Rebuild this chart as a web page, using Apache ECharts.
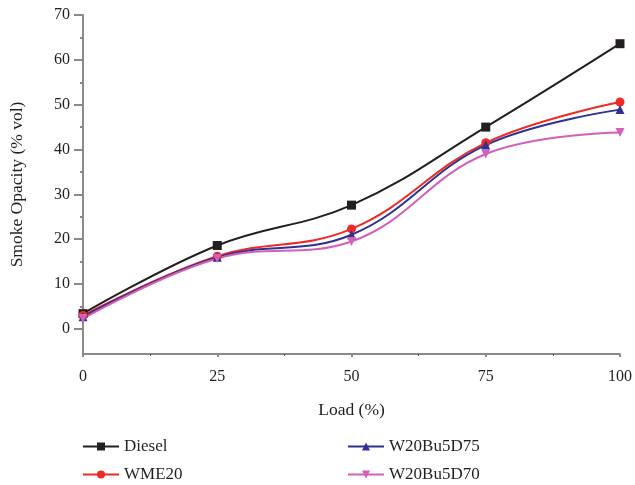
<!DOCTYPE html>
<html>
<head>
<meta charset="utf-8">
<script src="https://cdn.jsdelivr.net/npm/echarts@6/dist/echarts.min.js"></script>
<style>
  html, body { margin: 0; padding: 0; background: #fff; }
  #chart { width: 635px; height: 485px; }
</style>
</head>
<body>
<div id="chart"></div>
<script>
// load (%) on the x axis
var loads = [0, 25, 50, 75, 100];

// smoke opacity (% vol) per fuel
var diesel = [3.4, 18.6, 27.6, 45.0, 63.6];
var wme20 = [3.0, 16.2, 22.3, 41.5, 50.6];
var w20bu5d75 = [2.7, 16.0, 21.0, 41.0, 48.9];
var w20bu5d70 = [2.3, 15.7, 19.5, 39.0, 43.8];

var yLabels = [0, 10, 20, 30, 40, 50, 60, 70];
var yMinor = [5, 15, 25, 35, 45, 55, 65];

function pairs(ys) {
    return loads.map(function (x, i) { return [x, ys[i]]; });
}

var font = 'Liberation Serif';
var axisGray = '#8a8a8a';
var ink = '#231f20';

function line(name, ys, color, symbol, rotate) {
    return {
        name: name,
        type: 'line',
        data: pairs(ys),
        smooth: 0.4,
        symbol: symbol,
        symbolSize: 9,
        symbolRotate: rotate || 0,
        lineStyle: { color: color, width: 2 },
        itemStyle: { color: color },
        z: 3
    };
}

function legendCol(left, names) {
    return {
        orient: 'vertical',
        left: left,
        top: 438,
        padding: 0,
        itemWidth: 36,
        itemHeight: 10,
        itemGap: 11,
        textStyle: { fontFamily: font, fontSize: 17, color: ink },
        data: names
    };
}

var chart = echarts.init(document.getElementById('chart'));
chart.setOption({
    animation: false,
    grid: { left: 80, right: 12, top: 15, bottom: 131 },
    xAxis: {
        type: 'value',
        min: 0,
        max: 100,
        interval: 25,
        name: 'Load (%)',
        nameLocation: 'middle',
        nameGap: 47,
        nameTextStyle: { fontFamily: font, fontSize: 17.5, color: ink },
        axisLine: { onZero: false, lineStyle: { color: axisGray, width: 2 } },
        axisTick: { length: 3, lineStyle: { color: axisGray, width: 2 } },
        minorTick: { show: true, splitNumber: 2, length: 2, lineStyle: { color: '#555', width: 1 } },
        axisLabel: { fontFamily: font, fontSize: 16, color: ink, margin: 15 },
        splitLine: { show: false }
    },
    yAxis: [{
        type: 'value',
        min: -5.6,
        max: 70,
        name: 'Smoke Opacity (% vol)',
        nameLocation: 'middle',
        nameGap: 57,
        nameTextStyle: { fontFamily: font, fontSize: 17.5, color: ink },
        axisLine: { onZero: false, lineStyle: { color: axisGray, width: 2 } },
        axisTick: { customValues: yLabels, length: 9, lineStyle: { color: axisGray, width: 2 } },
        axisLabel: { customValues: yLabels, fontFamily: font, fontSize: 16, color: ink, margin: 13 },
        splitLine: { show: false }
    }, {
        type: 'value',
        min: -5.6,
        max: 70,
        position: 'left',
        axisLine: { show: false },
        axisTick: { customValues: yMinor, length: 3, lineStyle: { color: axisGray, width: 2 } },
        axisLabel: { show: false },
        splitLine: { show: false }
    }],
    legend: [
        legendCol(82, ['Diesel', 'WME20']),
        legendCol(347, ['W20Bu5D75', 'W20Bu5D70'])
    ],
    series: [
        line('Diesel', diesel, '#231f20', 'rect'),
        line('WME20', wme20, '#ee2a24', 'circle'),
        line('W20Bu5D75', w20bu5d75, '#2e3192', 'triangle'),
        line('W20Bu5D70', w20bu5d70, '#d35fb7', 'triangle', 180)
    ]
});
</script>
</body>
</html>
